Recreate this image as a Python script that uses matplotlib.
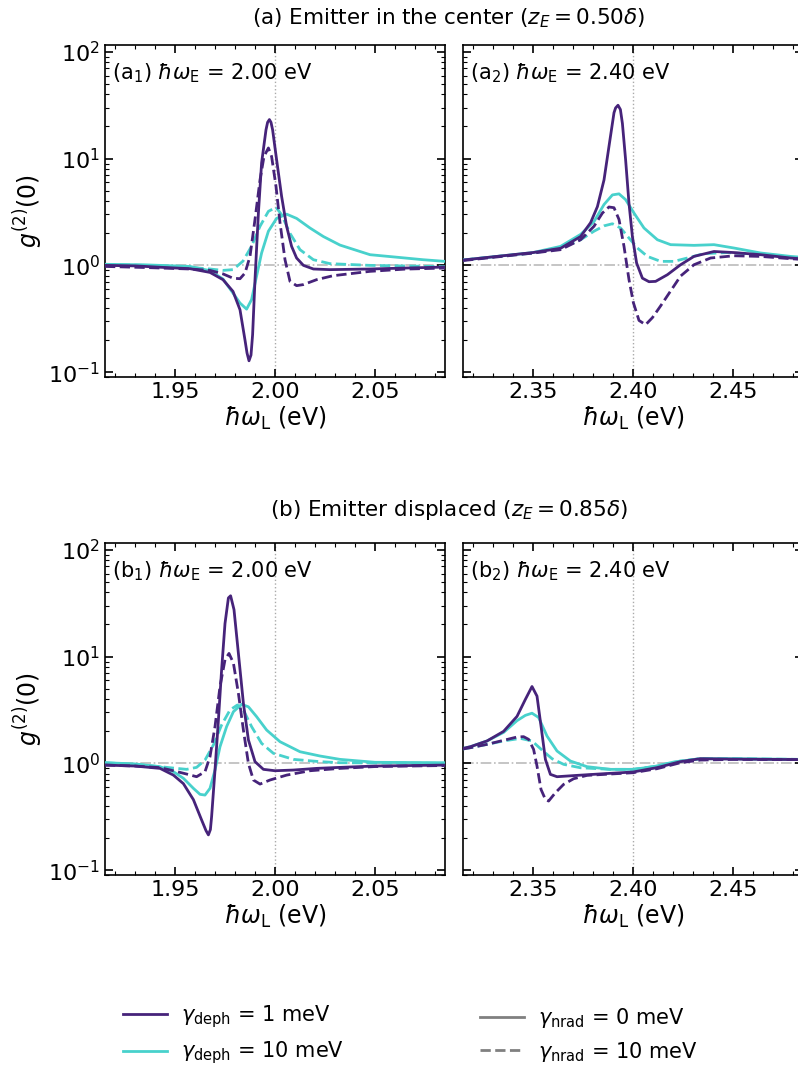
import numpy as np
import matplotlib.pyplot as plt
import matplotlib.ticker as ticker
from matplotlib.lines import Line2D

# ---- data (x in eV, values are log10 g2(0)) ----
# panel a1 : emitter at centre, hw_E = 2.00 eV
a1_d1_n0_x = [1.915, 1.93, 1.945, 1.9575, 1.9675, 1.974, 1.979, 1.9825, 1.985, 1.986, 1.987, 1.988, 1.9888,
              1.99, 1.9917, 1.9933, 1.9955, 1.9963, 1.9972, 1.998, 1.9988, 2.0008, 2.0033, 2.0058, 2.0083,
              2.0108, 2.0142, 2.0192, 2.0275, 2.0475, 2.065, 2.085]
a1_d1_n0_logg = [0.0, -0.005, -0.02, -0.031, -0.066, -0.134, -0.244, -0.416, -0.70, -0.82, -0.894, -0.84, -0.65,
                 -0.134, 0.49, 0.96, 1.27, 1.34, 1.366, 1.34, 1.27, 0.99, 0.647, 0.366, 0.178,
                 0.069, 0.0, -0.034, -0.04, -0.034, -0.025, -0.016]
a1_d1_n10_x = [1.915, 1.935, 1.9575, 1.9675, 1.974, 1.979, 1.9825, 1.985, 1.9875, 1.99, 1.9925, 1.9945, 1.9967,
               1.9983, 2.0005, 2.0025, 2.005, 2.0075, 2.0108, 2.0142, 2.0208, 2.029, 2.0475, 2.065, 2.085]
a1_d1_n10_logg = [-0.01, -0.02, -0.034, -0.047, -0.08, -0.12, -0.125, -0.072, 0.084, 0.43, 0.80, 1.02, 1.10,
                  1.02, 0.74, 0.40, 0.053, -0.15, -0.19, -0.18, -0.134, -0.097, -0.056, -0.035, -0.025]
a1_d10_n0_x = [1.915, 1.935, 1.9575, 1.9675, 1.974, 1.979, 1.9825, 1.9858, 1.9883, 1.9908, 1.9933, 1.9967,
               2.0008, 2.0058, 2.0108, 2.0175, 2.0242, 2.0325, 2.0475, 2.06, 2.074, 2.085]
a1_d10_n0_logg = [0.01, 0.005, -0.01, -0.05, -0.128, -0.26, -0.353, -0.41, -0.32, -0.10, 0.116, 0.32,
                  0.44, 0.48, 0.44, 0.35, 0.27, 0.19, 0.10, 0.078, 0.053, 0.0375]
a1_d10_n10_x = [1.915, 1.935, 1.9575, 1.9675, 1.974, 1.979, 1.984, 1.9883, 1.9925, 1.9967, 2.0005, 2.0033,
                2.0075, 2.0125, 2.0192, 2.0275, 2.0475, 2.085]
a1_d10_n10_logg = [0.01, 0.0, -0.019, -0.034, -0.047, -0.04, 0.04, 0.18, 0.366, 0.506, 0.544, 0.475,
                   0.30, 0.147, 0.053, 0.016, 0.0, -0.012]

# panel a2 : emitter at centre, hw_E = 2.40 eV
a2_d1_n0_x = [2.315, 2.33, 2.35, 2.3638, 2.3738, 2.3788, 2.3822, 2.3855, 2.388, 2.3905, 2.3913, 2.3925, 2.3937,
              2.3947, 2.3963, 2.398, 2.3997, 2.4018, 2.4047, 2.408, 2.4113, 2.4172, 2.4238, 2.4305, 2.4405,
              2.4505, 2.4638, 2.4788, 2.485]
a2_d1_n0_logg = [0.05, 0.08, 0.12, 0.16, 0.27, 0.40, 0.55, 0.80, 1.116, 1.43, 1.475, 1.50, 1.46,
                 1.33, 0.99, 0.58, 0.27, 0.022, -0.12, -0.153, -0.15, -0.0875, 0.006, 0.084, 0.13,
                 0.12, 0.10, 0.069, 0.06]
a2_d1_n10_x = [2.315, 2.33, 2.35, 2.3638, 2.3738, 2.3805, 2.3847, 2.388, 2.3905, 2.393, 2.3955, 2.398, 2.4002,
               2.403, 2.4063, 2.4097, 2.4138, 2.4188, 2.4238, 2.4305, 2.4388, 2.4505, 2.4638, 2.4788, 2.485]
a2_d1_n10_logg = [0.045, 0.075, 0.115, 0.147, 0.24, 0.366, 0.49, 0.547, 0.54, 0.43, 0.178, -0.134, -0.35,
                  -0.516, -0.556, -0.49, -0.38, -0.24, -0.10, 0.006, 0.069, 0.09, 0.084, 0.0625, 0.055]
a2_d10_n0_x = [2.315, 2.33, 2.35, 2.3638, 2.3738, 2.3805, 2.3855, 2.3897, 2.393, 2.3963, 2.4005, 2.4055,
               2.4122, 2.4188, 2.4305, 2.4405, 2.4505, 2.4638, 2.4788, 2.485]
a2_d10_n0_logg = [0.05, 0.08, 0.12, 0.178, 0.29, 0.41, 0.57, 0.66, 0.67, 0.616, 0.49, 0.35,
                  0.24, 0.194, 0.1875, 0.194, 0.1625, 0.116, 0.084, 0.075]
a2_d10_n10_x = [2.315, 2.33, 2.35, 2.3638, 2.3738, 2.3805, 2.3855, 2.3897, 2.3938, 2.398, 2.4022, 2.4072,
                2.4138, 2.4205, 2.4272, 2.4355, 2.4472, 2.4638, 2.4788, 2.485]
a2_d10_n10_logg = [0.05, 0.08, 0.115, 0.16, 0.24, 0.32, 0.37, 0.39, 0.35, 0.256, 0.1625, 0.084,
                   0.0375, 0.0375, 0.069, 0.11, 0.12, 0.10, 0.075, 0.07]

# panel b1 : emitter displaced, hw_E = 2.00 eV
b1_d1_n0_x = [1.915, 1.93, 1.9425, 1.9492, 1.9542, 1.9592, 1.9633, 1.9655, 1.9667, 1.9677, 1.9683, 1.97, 1.9717,
              1.9733, 1.975, 1.9767, 1.9778, 1.9795, 1.9817, 1.9842, 1.9867, 1.99, 1.9942, 2.0, 2.0092,
              2.0208, 2.0325, 2.05, 2.085]
b1_d1_n0_logg = [-0.016, -0.025, -0.047, -0.11, -0.19, -0.34, -0.53, -0.63, -0.67, -0.62, -0.5, -0.0625, 0.406,
                 0.875, 1.31, 1.55, 1.57, 1.44, 1.03, 0.5625, 0.22, 0.016, -0.056, -0.069, -0.0625,
                 -0.047, -0.0375, -0.025, -0.016]
b1_d1_n10_x = [1.915, 1.93, 1.9425, 1.9492, 1.9558, 1.9608, 1.965, 1.9675, 1.97, 1.9725, 1.975, 1.977, 1.9792,
               1.9817, 1.9842, 1.9867, 1.9892, 1.9925, 1.9975, 2.0058, 2.0175, 2.0325, 2.05, 2.085]
b1_d1_n10_logg = [-0.016, -0.025, -0.04, -0.069, -0.10, -0.125, -0.078, 0.0625, 0.344, 0.72, 0.97, 1.03, 0.94,
                  0.656, 0.3125, 0.0, -0.156, -0.194, -0.156, -0.11, -0.069, -0.047, -0.03, -0.02]
b1_d10_n0_x = [1.915, 1.93, 1.9425, 1.9492, 1.9542, 1.9592, 1.9625, 1.965, 1.9675, 1.97, 1.9725, 1.9758, 1.9792,
               1.9833, 1.9867, 1.9908, 1.9958, 2.0025, 2.0125, 2.0225, 2.0325, 2.05, 2.085]
b1_d10_n0_logg = [0.006, -0.005, -0.031, -0.078, -0.14, -0.234, -0.29, -0.297, -0.234, -0.0625, 0.156, 0.344,
                  0.484, 0.553, 0.53, 0.4375, 0.3125, 0.203, 0.109, 0.069, 0.0375, 0.01, 0.006]
b1_d10_n10_x = [1.915, 1.93, 1.9425, 1.9492, 1.9558, 1.9608, 1.965, 1.9692, 1.9733, 1.9775, 1.9812, 1.9842,
                1.9883, 1.9933, 1.9992, 2.0092, 2.0225, 2.0325, 2.085]
b1_d10_n10_logg = [0.006, -0.01, -0.031, -0.044, -0.056, -0.0375, 0.031, 0.172, 0.36, 0.5, 0.547, 0.5,
                   0.344, 0.1875, 0.094, 0.0375, 0.016, 0.006, 0.0]

# panel b2 : emitter displaced, hw_E = 2.40 eV
b2_d1_n0_x = [2.315, 2.3187, 2.327, 2.3353, 2.342, 2.3462, 2.3495, 2.352, 2.354, 2.3562, 2.3587, 2.362, 2.372,
              2.3853, 2.40, 2.412, 2.4237, 2.4337, 2.45, 2.485]
b2_d1_n0_logg = [0.14, 0.156, 0.21, 0.30, 0.44, 0.60, 0.72, 0.63, 0.35, 0.0375, -0.103, -0.125, -0.1125,
                 -0.097, -0.081, -0.04, 0.016, 0.044, 0.04, 0.035]
b2_d1_n10_x = [2.315, 2.3187, 2.327, 2.3353, 2.342, 2.3453, 2.3478, 2.3503, 2.352, 2.354, 2.3562, 2.3578,
               2.3612, 2.3653, 2.3703, 2.377, 2.40, 2.412, 2.4237, 2.4337, 2.45, 2.485]
b2_d1_n10_logg = [0.135, 0.147, 0.178, 0.216, 0.247, 0.25, 0.225, 0.131, -0.025, -0.244, -0.3375, -0.353,
                  -0.275, -0.197, -0.144, -0.1125, -0.0875, -0.05, 0.006, 0.031, 0.037, 0.035]
b2_d10_n0_x = [2.315, 2.3187, 2.327, 2.3353, 2.342, 2.3462, 2.3495, 2.3528, 2.357, 2.362, 2.3687, 2.377,
               2.3887, 2.40, 2.4103, 2.4203, 2.4337, 2.45, 2.485]
b2_d10_n0_logg = [0.14, 0.156, 0.21, 0.29, 0.40, 0.45, 0.47, 0.43, 0.256, 0.116, 0.022, -0.031,
                  -0.056, -0.056, -0.031, 0.0125, 0.044, 0.044, 0.037]
b2_d10_n10_x = [2.315, 2.3187, 2.327, 2.3353, 2.3437, 2.3495, 2.3545, 2.3595, 2.3653, 2.3737, 2.3887, 2.40,
                2.412, 2.4237, 2.4337, 2.45, 2.485]
b2_d10_n10_logg = [0.135, 0.147, 0.178, 0.21, 0.234, 0.21, 0.125, 0.044, -0.009, -0.041, -0.056, -0.056,
                   -0.025, 0.022, 0.044, 0.044, 0.037]

emitter_energies = [2.00, 2.40, 2.00, 2.40]
panel_tags = ["a$_1$", "a$_2$", "b$_1$", "b$_2$"]
row_titles = [r"(a) Emitter in the center ($z_E = 0.50\delta$)",
              r"(b) Emitter displaced ($z_E = 0.85\delta$)"]

c_purple = "#46237a"
c_turq = "#48d1cc"

fig = plt.figure(figsize=(7.98, 10.7), dpi=100)
W, H = 798.0, 1070.0


def make_ax(x0, x1, ytop, ybot):
    return fig.add_axes([x0 / W, 1 - ybot / H, (x1 - x0) / W, (ybot - ytop) / H])


axes = [make_ax(105, 445, 45, 377), make_ax(463, 803, 45, 377),
        make_ax(105, 445, 543, 875), make_ax(463, 803, 543, 875)]

curves = [
    [(a1_d1_n0_x, a1_d1_n0_logg), (a1_d1_n10_x, a1_d1_n10_logg),
     (a1_d10_n0_x, a1_d10_n0_logg), (a1_d10_n10_x, a1_d10_n10_logg)],
    [(a2_d1_n0_x, a2_d1_n0_logg), (a2_d1_n10_x, a2_d1_n10_logg),
     (a2_d10_n0_x, a2_d10_n0_logg), (a2_d10_n10_x, a2_d10_n10_logg)],
    [(b1_d1_n0_x, b1_d1_n0_logg), (b1_d1_n10_x, b1_d1_n10_logg),
     (b1_d10_n0_x, b1_d10_n0_logg), (b1_d10_n10_x, b1_d10_n10_logg)],
    [(b2_d1_n0_x, b2_d1_n0_logg), (b2_d1_n10_x, b2_d1_n10_logg),
     (b2_d10_n0_x, b2_d10_n0_logg), (b2_d10_n10_x, b2_d10_n10_logg)],
]
styles = [(c_purple, "-"), (c_purple, "--"), (c_turq, "-"), (c_turq, "--")]

for i, ax in enumerate(axes):
    e0 = emitter_energies[i]
    ax.axhline(1.0, color="#bbbbbb", ls="-.", lw=1.2, zorder=1)
    ax.axvline(e0, color="#aaaaaa", ls=":", lw=1.0, zorder=1)
    # turquoise first so purple sits on top
    for k in [2, 3, 0, 1]:
        xs, lg = curves[i][k]
        col, ls = styles[k]
        ax.plot(xs, 10 ** np.array(lg), color=col, ls=ls, lw=2.0, zorder=3)
    ax.set_yscale("log")
    ax.set_ylim(0.09, 116)
    ax.set_xlim(e0 - 0.085, e0 + 0.085)
    ax.set_xticks([e0 - 0.05, e0, e0 + 0.05])
    ax.xaxis.set_major_formatter(ticker.FormatStrFormatter("%.2f"))
    ax.xaxis.set_minor_locator(ticker.MultipleLocator(0.01))
    ax.tick_params(which="both", direction="in", top=True, right=True, labelsize=16)
    ax.tick_params(which="major", length=6, width=1.2)
    ax.tick_params(which="minor", length=3, width=0.8)
    ax.set_xlabel(r"$\hbar\omega_\mathrm{L}$ (eV)", fontsize=17, labelpad=2)
    if i % 2 == 0:
        ax.set_ylabel(r"$g^{(2)}(0)$", fontsize=17, labelpad=2)
    else:
        ax.tick_params(labelleft=False)
    for sp in ax.spines.values():
        sp.set_linewidth(1.2)
    ax.text(0.022, 0.915, "(" + panel_tags[i] + r") $\hbar\omega_\mathrm{E}$ = " + "%.2f eV" % e0,
            transform=ax.transAxes, fontsize=15, va="center", ha="left")

fig.text(449 / W, 1 - 18 / H, row_titles[0], fontsize=15.5, ha="center", va="center")
fig.text(449 / W, 1 - 510 / H, row_titles[1], fontsize=15.5, ha="center", va="center")

h_deph = [Line2D([], [], color=c_purple, lw=2), Line2D([], [], color=c_turq, lw=2)]
l_deph = [r"$\gamma_\mathrm{deph}$ = 1 meV", r"$\gamma_\mathrm{deph}$ = 10 meV"]
h_nrad = [Line2D([], [], color="gray", lw=2, ls="-"), Line2D([], [], color="gray", lw=2, ls="--")]
l_nrad = [r"$\gamma_\mathrm{nrad}$ = 0 meV", r"$\gamma_\mathrm{nrad}$ = 10 meV"]

fig.legend(h_deph, l_deph, loc="center left", bbox_to_anchor=(104 / W, 1 - 1035 / H),
           frameon=False, fontsize=15, handlelength=2.1, handletextpad=0.7, labelspacing=0.45)
fig.legend(h_nrad, l_nrad, loc="center left", bbox_to_anchor=(461 / W, 1 - 1035 / H),
           frameon=False, fontsize=15, handlelength=2.1, handletextpad=0.7, labelspacing=0.45)

fig.savefig("out.png", dpi=100)
